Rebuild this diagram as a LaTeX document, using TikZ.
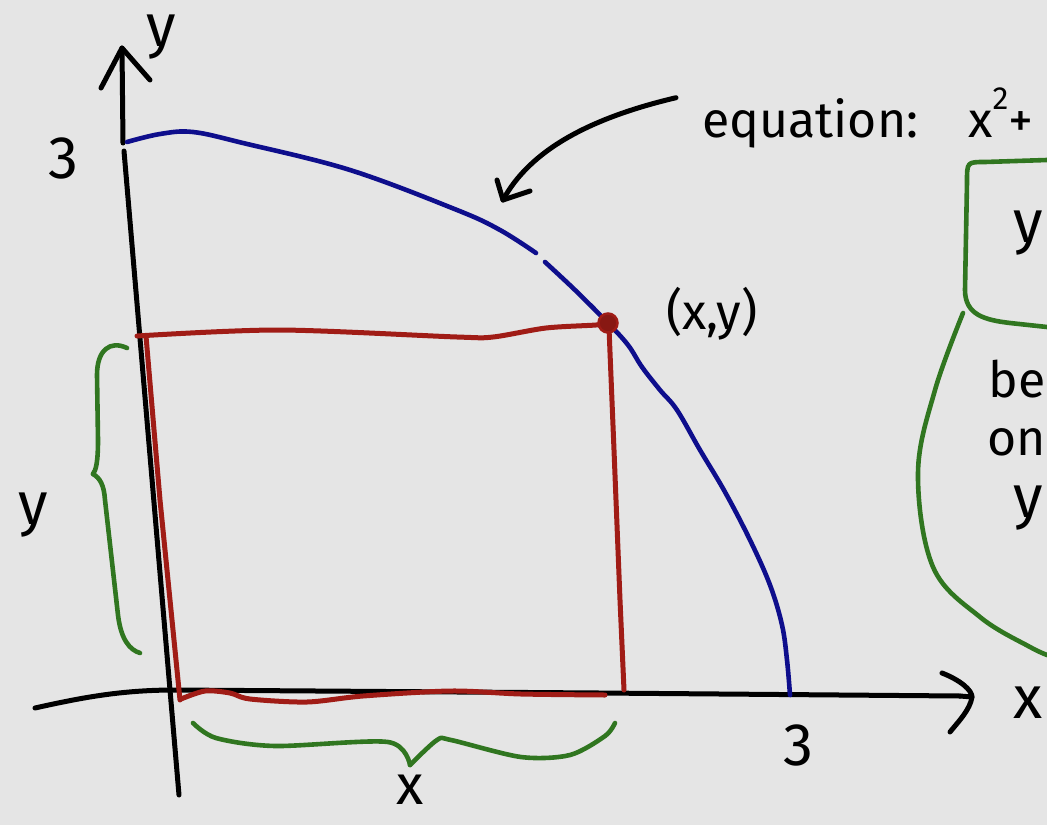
\documentclass[tikz,border=0pt]{standalone}
\usepackage{fontspec}
\setmainfont{Fira Sans}
\begin{document}
\begin{tikzpicture}[x=1pt,y=-1pt,
  pen/.style={line width=5pt,line cap=round,line join=round},
  axis/.style={pen,draw=black},
  curveb/.style={pen,draw=penblue,line width=4.6pt},
  rect/.style={pen,draw=penred,line width=5pt},
  brace/.style={pen,draw=pengreen,line width=4.6pt},
  lab/.style={inner sep=0pt,text=black,font=\fontsize{60}{64}\selectfont},
  smalllab/.style={inner sep=0pt,text=black,font=\fontsize{50}{56}\selectfont}]
\definecolor{paper}{RGB}{229,229,229}
\definecolor{penblue}{RGB}{14,14,140}
\definecolor{penred}{RGB}{160,28,22}
\definecolor{pengreen}{RGB}{48,118,32}
\useasboundingbox (0,0) rectangle (1047,825);
\clip (0,0) rectangle (1047,825);
\fill[paper] (0,0) rectangle (1047,825);

% axes
\draw[axis] (122,48) -- (123,143);
\draw[axis] (124,151) -- (170,690) -- (179,795);
\draw[axis] (101,88) -- (122,48) -- (150,80);
\draw[axis] (35,708) .. controls (80,698) and (120,690) .. (175,690) -- (600,693) -- (960,696);
\draw[axis] (942,673) .. controls (960,680) and (972,690) .. (972,697) .. controls (970,710) and (958,722) .. (950,732);
\draw[axis] (960,696) -- (972,697);

% labels on axes
\node[lab] (ylab) at (161,37) {y};
\node[lab] (xlab) at (1028,703) {x};
\node[lab] (ythree) at (63,158) {3};
\node[lab] (xthree) at (798,745) {3};

% blue quarter circle
\draw[curveb] plot[smooth,tension=0.6] coordinates {(127,142) (160,134) (193,132) (243,143) (350,170) (457,210) (500,230) (536,253)};
\draw[curveb] plot[smooth,tension=0.6] coordinates {(545,262) (575,290) (608,323) (628,345) (642,367) (660,390) (677,410) (700,450) (725,492) (750,540) (770,585) (782,625) (787,660) (790,695)};

% red rectangle
\draw[rect] plot[smooth,tension=0.5] coordinates {(137,336) (279,330) (457,337) (493,337) (546,328) (596,325) (608,323)};
\draw[rect] (146,336) -- (160,500) -- (180,700);
\draw[rect] (609,328) -- (614,450) -- (620,600) -- (624,690);
\draw[rect] plot[smooth,tension=0.5] coordinates {(181,699) (205,691) (230,693) (250,699) (307,702) (363,696) (451,691) (521,694) (605,695)};
\node[circle,fill=penred!85!black,draw=penred,line width=2.5pt,minimum size=19pt,inner sep=0pt] (pt) at (608,323) {};
\node[smalllab] (ptlab) at (712,314) {(x,y)};

% green braces
\draw[brace] plot[smooth,tension=0.5] coordinates {(193,723) (216,738) (275,746) (388,742) (410,765)};
\draw[brace] plot[smooth,tension=0.5] coordinates {(410,765) (437,740) (451,740) (521,757) (570,755) (605,736) (615,723)};
\node[lab,font=\fontsize{56}{60}\selectfont] (xbr) at (410,790) {x};
\draw[brace] (127,348) .. controls (110,340) and (97,350) .. (97,375) -- (98,440) .. controls (98,462) and (96,470) .. (93,474);
\draw[brace] (93,474) .. controls (100,478) and (104,485) .. (105,500) -- (118,615) .. controls (121,640) and (130,650) .. (140,653);
\node[lab] (ybr) at (33,515) {y};

% equation label and arrow
\node[smalllab,anchor=base west,font=\fontsize{50}{54}\selectfont] (eq) at (702,137) {equation:\hspace{50pt}x\raisebox{0.55em}{\fontsize{32}{34}\selectfont 2}+};
\coordinate (tip) at (503,200);
\draw[axis] (eq.west) ++(-26,-20) coordinate (astart) .. controls (590,118) and (530,150) .. (tip);
\draw[axis] (497,180) -- (tip) -- (530,191);

% green boxes at right
\draw[brace] (1047,160) -- (985,162) .. controls (967,162) .. (967,182) -- (965,290) .. controls (965,315) and (985,320) .. (1010,323) -- (1047,327);
\node[lab] (boxy) at (1028,233) {y};
\draw[brace] plot[smooth,tension=0.6] coordinates {(963,313) (935,390) (918,473) (933,567) (980,617) (1030,647) (1050,656)};
\node[smalllab,anchor=base east] (be) at (1046,397) {be};
\node[smalllab,anchor=base east] (on) at (1046,455) {on};
\node[lab] (ry) at (1028,508) {y};
\end{tikzpicture}
\end{document}
